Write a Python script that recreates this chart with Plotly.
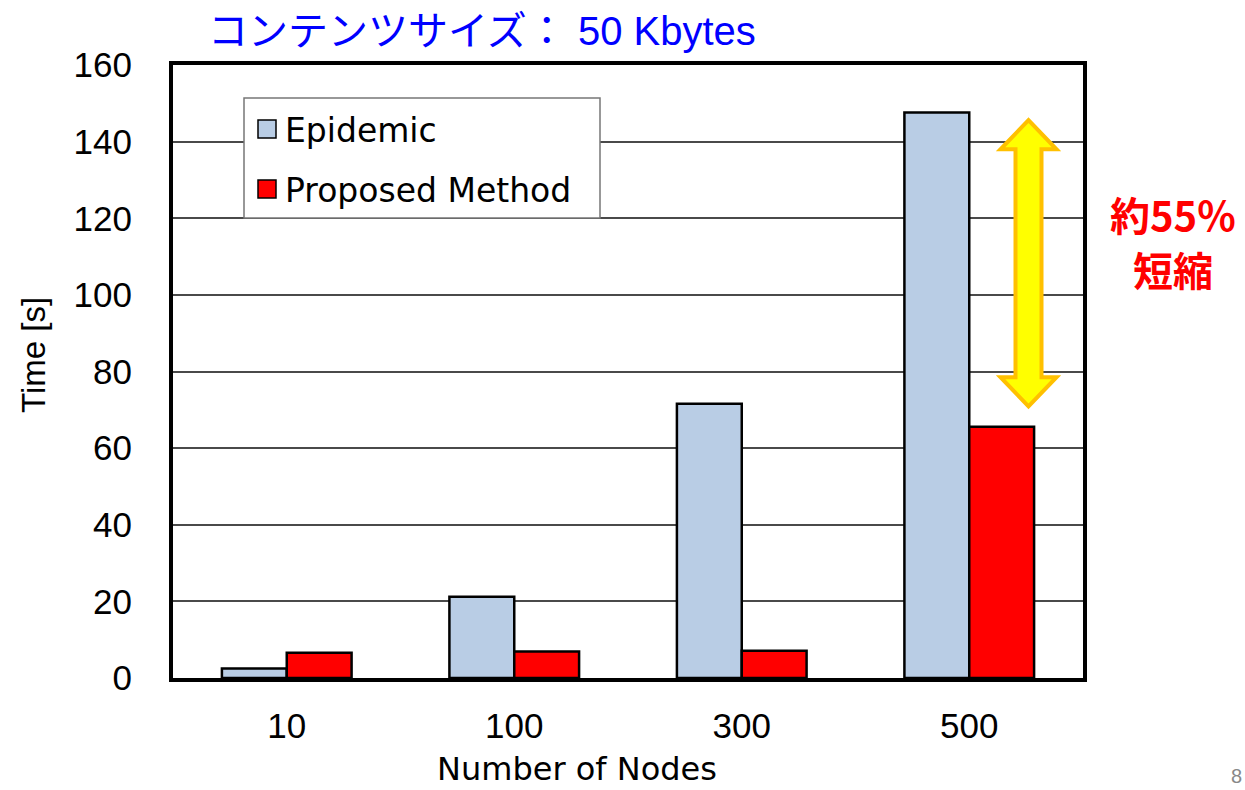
import plotly.graph_objects as go

# Data
nodes = ["10", "100", "300", "500"]
epidemic = [2.5, 21.2, 71.6, 147.6]
proposed = [6.6, 6.9, 7.1, 65.6]
series_names = ["Epidemic", "Proposed Method"]
y_ticks = [0, 20, 40, 60, 80, 100, 120, 140, 160]

title_text = "コンテンツサイズ： 50 Kbytes"
note_lines = ["約55%", "短縮"]

EPI_COLOR = "#B9CDE5"
PROP_COLOR = "#FF0000"
FONT = "Liberation Sans, Arial, sans-serif"
WIDE_FONT = "DejaVu Sans, sans-serif"
JP_FONT = "Liberation Sans, Noto Sans CJK JP, sans-serif"

W, H = 1245, 790
L, R, T, B = 173, 162, 65, 112
PW, PH = W - L - R, H - T - B


def px_x(px):
    return (px - L) / PW


def px_y(py):
    return (H - B - py) / PH


fig = go.Figure()
fig.add_trace(go.Bar(x=nodes, y=epidemic, name=series_names[0],
                     marker=dict(color=EPI_COLOR, line=dict(color="black", width=2.5)),
                     showlegend=False))
fig.add_trace(go.Bar(x=nodes, y=proposed, name=series_names[1],
                     marker=dict(color=PROP_COLOR, line=dict(color="black", width=2.5)),
                     showlegend=False))

shapes = []
annotations = []

# Legend box drawn by hand
shapes.append(dict(type="rect", xref="paper", yref="paper",
                   x0=px_x(244), x1=px_x(600), y0=px_y(218), y1=px_y(98),
                   fillcolor="white", line=dict(color="#777777", width=1.5),
                   layer="above"))
for name, color, cy in [(series_names[0], EPI_COLOR, 129), (series_names[1], PROP_COLOR, 189)]:
    shapes.append(dict(type="rect", xref="paper", yref="paper",
                       x0=px_x(258), x1=px_x(276), y0=px_y(cy + 9), y1=px_y(cy - 9),
                       fillcolor=color, line=dict(color="black", width=1.5),
                       layer="above"))
    annotations.append(dict(text=name, xref="paper", yref="paper",
                            x=px_x(283), y=px_y(cy + 1), xanchor="left", yanchor="middle",
                            showarrow=False, font=dict(family=WIDE_FONT, size=33, color="black")))

# Double-headed arrow between the two bars of the last group
top_tip = epidemic[-1] - 2.0
bot_tip = proposed[-1] + 5.3
head = 7.6
cx = px_x(1028.5)
hw = px_x(1028.5 + 28) - cx
sw = px_x(1028.5 + 13) - cx
path = (f"M {cx},{top_tip} L {cx + hw},{top_tip - head} L {cx + sw},{top_tip - head} "
        f"L {cx + sw},{bot_tip + head} L {cx + hw},{bot_tip + head} L {cx},{bot_tip} "
        f"L {cx - hw},{bot_tip + head} L {cx - sw},{bot_tip + head} L {cx - sw},{top_tip - head} "
        f"L {cx - hw},{top_tip - head} Z")
shapes.append(dict(type="path", xref="paper", yref="y", path=path,
                   fillcolor="#FFFF00", line=dict(color="#FFC000", width=4), layer="above"))

# Title
annotations.append(dict(text=title_text, xref="paper", yref="paper",
                        x=px_x(206), y=px_y(31), xanchor="left", yanchor="middle",
                        showarrow=False, font=dict(family=JP_FONT, size=40, color="#0000FF")))

# Reduction note, one annotation per line
for line, cy in zip(note_lines, [214, 269]):
    annotations.append(dict(text=f"<b>{line}</b>", xref="paper", yref="paper",
                            x=px_x(1173), y=px_y(cy), xanchor="center", yanchor="middle",
                            showarrow=False,
                            font=dict(family="Noto Sans CJK JP, sans-serif", size=40,
                                      color="#FF0000")))

# Axis titles
annotations.append(dict(text="Time [s]", xref="paper", yref="paper",
                        x=px_x(33), y=px_y(355), xanchor="center", yanchor="middle",
                        textangle=-90, showarrow=False,
                        font=dict(family=FONT, size=33, color="black")))
annotations.append(dict(text="Number of Nodes", xref="paper", yref="paper",
                        x=px_x(577), y=px_y(769), xanchor="center", yanchor="middle",
                        showarrow=False, font=dict(family=WIDE_FONT, size=32, color="black")))

# Page number at the bottom corner
annotations.append(dict(text="8", xref="paper", yref="paper",
                        x=px_x(1236), y=px_y(789), xanchor="center", yanchor="bottom",
                        showarrow=False, font=dict(family=FONT, size=20, color="#888888")))

fig.update_layout(
    width=W, height=H,
    margin=dict(l=L, r=R, t=T, b=B),
    paper_bgcolor="white", plot_bgcolor="white",
    barmode="group", bargap=0.43, bargroupgap=0,
    shapes=shapes, annotations=annotations,
    showlegend=False,
)
fig.update_xaxes(
    type="category", showline=True, linecolor="black", linewidth=4, mirror=True,
    showgrid=False, ticks="", ticklabelstandoff=14,
    tickfont=dict(family=FONT, size=35, color="black"),
)
fig.update_yaxes(
    range=[0, 160], tickvals=y_ticks, showline=True, linecolor="black", linewidth=4,
    mirror=True, showgrid=True, gridcolor="#4a4a4a", gridwidth=1.5, zeroline=False,
    ticks="", ticklabelstandoff=30,
    tickfont=dict(family=FONT, size=35, color="black"),
)

fig.write_html("out.html")
